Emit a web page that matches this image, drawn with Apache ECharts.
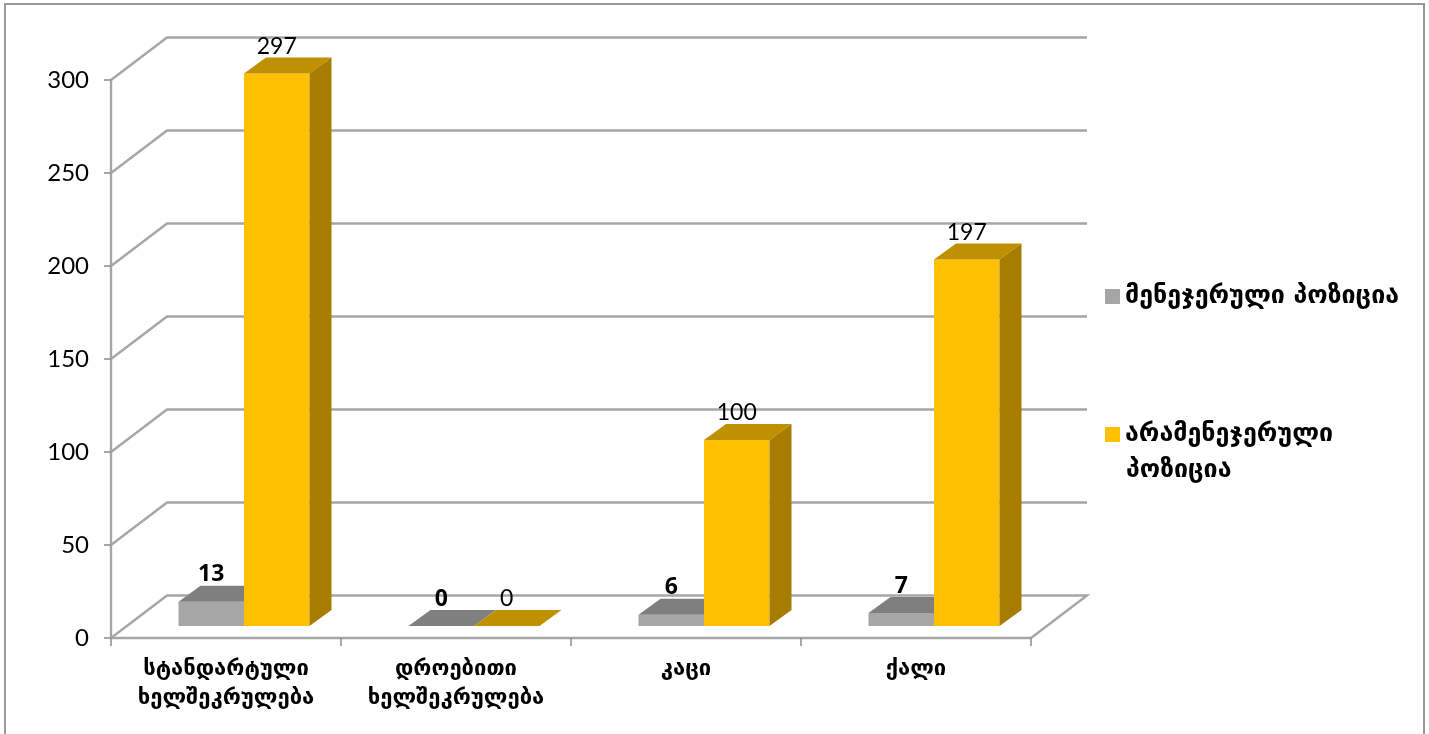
<!DOCTYPE html>
<html><head><meta charset="utf-8">
<style>html,body{margin:0;padding:0;background:#fff}#c{width:1429px;height:734px}</style>
<script src="https://cdn.jsdelivr.net/npm/echarts@6/dist/echarts.min.js"></script></head>
<body><div id="c"></div>
<script>
const categories = ['სტანდარტული\nხელშეკრულება','დროებითი\nხელშეკრულება','კაცი','ქალი'];
const managerial = [13,0,6,7];
const nonManagerial = [297,0,100,197];
const yTicks = [0,50,100,150,200,250,300];
const seriesNames = ['მენეჯერული პოზიცია','არამენეჯერული პოზიცია'];

const GEO = 'DejaVu Sans';
const NUM = 'Lato';
const chart = echarts.init(document.getElementById('c'));

const wallDx = 56, wallDy = -42.5;
const frontDx = 18, frontDy = -12, barW = 65.5, depthDx = 22, depthDy = -16;
const lineCol = '#a6a6a6';

function wallItem(params, api){
  const v = api.value(0);
  const cs = params.coordSys;
  const p = api.coord([0, v]);
  const x0 = cs.x, y = p[1], x1 = cs.x + cs.width;
  const pts = [[x0,y],[x0+wallDx,y+wallDy],[x1+wallDx,y+wallDy]];
  if (v === 0) pts.push([x1,y]);
  return {type:'polyline', shape:{points:pts}, style:{stroke:lineCol, lineWidth:2.4, fill:'none'}, silent:true};
}
function barItem(side, base, dark, darker, bold){
  return function(params, api){
    const i = api.value(0), v = api.value(1);
    const top = api.coord([i, v]), bot = api.coord([i, 0]);
    const x = top[0] + frontDx + (side < 0 ? -barW : 0);
    const yT = top[1] + frontDy, yB = bot[1] + frontDy;
    const children = [];
    if (v > 0) children.push({type:'rect', shape:{x:x,y:yT,width:barW,height:yB-yT}, style:{fill:base}});
    children.push({type:'polygon', shape:{points:[[x,yT],[x+depthDx,yT+depthDy],[x+barW+depthDx,yT+depthDy],[x+barW,yT]]}, style:{fill:dark}});
    if (v > 0) children.push({type:'polygon', shape:{points:[[x+barW,yT],[x+barW+depthDx,yT+depthDy],[x+barW+depthDx,yB+depthDy],[x+barW,yB]]}, style:{fill:darker}});
    children.push({type:'text', style:{text:String(v), x:x+barW/2, y:yT-27, align:'center', verticalAlign:'middle',
      font:bold ? 'bold 23px "Open Sans"' : '23px "'+NUM+'"', fill:'#000'}});
    return {type:'group', children};
  };
}

chart.setOption({
  animation:false,
  backgroundColor:'#fff',
  graphic:[
    {type:'polyline', shape:{points:[[5,734],[5,4],[1424,4],[1424,734]]}, style:{fill:'none',stroke:'#999999',lineWidth:2}, silent:true, z:-1},
    {type:'text', left:1126, top:458, style:{text:'პოზიცია', font:'bold 25px "'+GEO+'"', fill:'#000'}}
  ],
  grid:{left:111, top:80, width:920, height:558},
  legend:{orient:'vertical', left:1105, top:284, padding:0, itemWidth:15, itemHeight:15, itemGap:113,
    icon:'rect', textStyle:{fontFamily:GEO, fontWeight:'bold', fontSize:25, color:'#000', padding:[0,0,0,0]},
    formatter:n=>n===seriesNames[1]?n.split(' ')[0]:n,
    selectedMode:false, data:seriesNames},
  xAxis:{type:'category', data:categories, boundaryGap:true,
    axisLine:{show:true,onZero:false,lineStyle:{color:lineCol,width:2.4}},
    axisTick:{show:true,alignWithLabel:false,length:8,lineStyle:{color:'#8c8c8c',width:1.5}},
    axisLabel:{interval:0,margin:17,color:'#000',fontFamily:GEO,fontWeight:'bold',fontSize:22,lineHeight:29}},
  yAxis:{type:'value', min:0, max:300, interval:50,
    axisLine:{show:true,lineStyle:{color:lineCol,width:2.4}},
    axisTick:{show:true,length:7,lineStyle:{color:'#8c8c8c',width:1.5}},
    splitLine:{show:false},
    axisLabel:{margin:22,color:'#000',fontFamily:NUM,fontSize:24}},
  series:[
    {type:'custom', name:'walls', coordinateSystem:'cartesian2d', renderItem:wallItem, data:yTicks.map(v=>[v]), encode:{y:0}, z:1, silent:true, clip:false},
    {type:'custom', name:seriesNames[0], renderItem:barItem(-1,'#a6a6a6','#7f7f7f','#7f7f7f',true), itemStyle:{color:'#a5a5a5'},
      data:managerial.map((v,i)=>[i,v]), encode:{x:0,y:1}, z:2, clip:false, silent:true},
    {type:'custom', name:seriesNames[1], renderItem:barItem(1,'#ffc000','#bf9000','#a67d00',false), itemStyle:{color:'#ffc000'},
      data:nonManagerial.map((v,i)=>[i,v]), encode:{x:0,y:1}, z:3, clip:false, silent:true}
  ]
});
</script></body></html>
